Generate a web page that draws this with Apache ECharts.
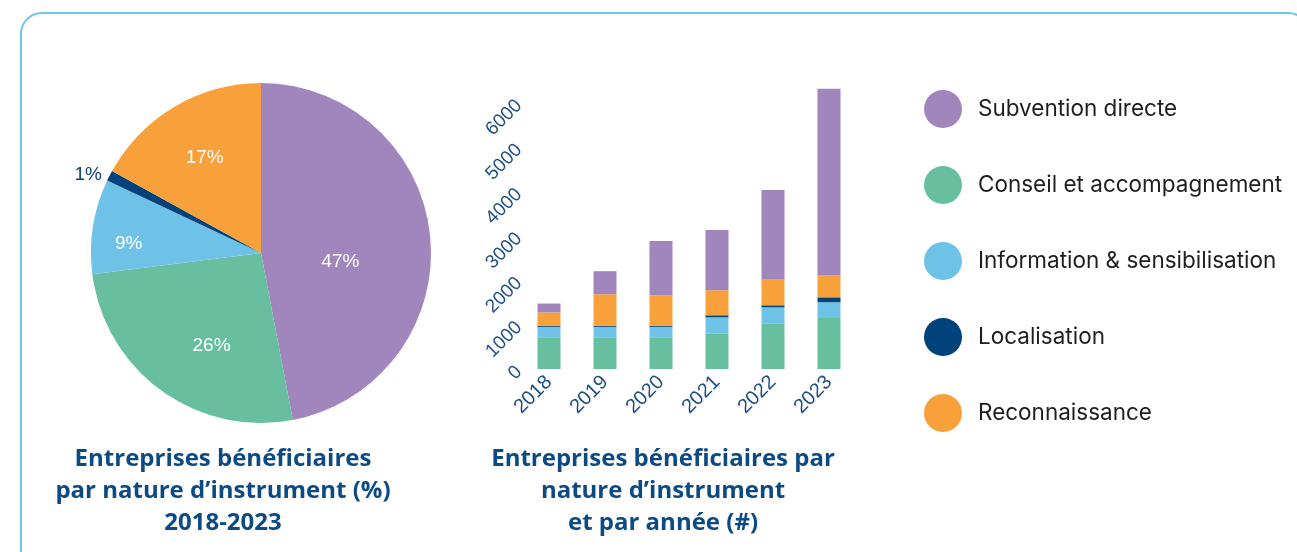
<!DOCTYPE html>
<html>
<head>
<meta charset="utf-8">
<script src="https://cdn.jsdelivr.net/npm/echarts@6/dist/echarts.min.js"></script>
<style>
    html, body { margin: 0; padding: 0; background: #fff; overflow: hidden; }
    #frame {
        position: absolute; left: 20px; top: 12px; width: 1290px; height: 600px;
        border: 2px solid #6fc5ea; border-radius: 22px; box-sizing: border-box;
    }
    #main { position: absolute; left: 0; top: 0; width: 1297px; height: 552px; }
</style>
</head>
<body>
<div id="frame"></div>
<div id="main"></div>
<script>
    // données
    const instruments = ["Subvention directe", "Conseil et accompagnement", "Information & sensibilisation", "Localisation", "Reconnaissance"];
    const pieShares = [47, 26, 9, 1, 17]; // % 2018-2023, même ordre que instruments
    const years = ["2018", "2019", "2020", "2021", "2022", "2023"];
    const subvention = [200, 520, 1220, 1355, 2010, 4200];
    const conseil = [715, 715, 715, 805, 1030, 1150];
    const information = [235, 235, 235, 360, 360, 355];
    const localisation = [25, 25, 25, 45, 45, 110];
    const reconnaissance = [300, 710, 690, 565, 590, 500];
    const yTicks = [0, 1000, 2000, 3000, 4000, 5000, 6000];

    const colors = {
        "Subvention directe": "#a086bd",
        "Conseil et accompagnement": "#68bfa0",
        "Information & sensibilisation": "#6ec2e8",
        "Localisation": "#00427b",
        "Reconnaissance": "#f8a03a"
    };
    const navy = "#0c4a85";

    // placement des étiquettes du camembert : fraction du rayon, décalage d'angle (deg)
    const PIE_CX = 261, PIE_CY = 253, PIE_R = 170;
    const labelRadius = [0.47, 0.62, 0.78, null, 0.65];
    const labelShift = [12, -8, -5, 0, 0];

    let myChart = echarts.init(document.getElementById("main"));

    let cum = [];
    let acc = 0;
    pieShares.forEach(v => { cum.push(acc + v / 2); acc += v; });
    const total = acc;

    const titleStyle = { color: navy, fontSize: 24, fontWeight: "bold", lineHeight: 32, fontFamily: "Open Sans" };

    myChart.setOption({
        animation: false,
        textStyle: { fontFamily: "Roboto" },
        title: [
            {
                text: "Entreprises bénéficiaires\npar nature d\u2019instrument (%)\n2018-2023",
                left: 218, top: 438, textAlign: "center",
                textStyle: titleStyle
            },
            {
                text: "Entreprises bénéficiaires par\nnature d\u2019instrument\net par année (#)",
                left: 658, top: 438, textAlign: "center",
                textStyle: titleStyle
            }
        ],
        legend: {
            data: instruments,
            orient: "vertical",
            left: 919,
            top: 85,
            icon: "circle",
            itemWidth: 38,
            itemHeight: 38,
            itemGap: 38,
            selectedMode: false,
            textStyle: { fontSize: 22.5, color: "#1e1e1e", fontFamily: "Inter", padding: [0, 0, 0, 11] }
        },
        grid: {
            left: 521,
            width: 336,
            top: 85,
            bottom: 183
        },
        xAxis: {
            type: "category",
            data: years,
            axisLine: { show: false },
            axisTick: { show: false },
            axisLabel: {
                rotate: 45,
                margin: 10,
                color: "#1d4f86",
                fontSize: 20,
                fontFamily: "Liberation Sans"
            }
        },
        yAxis: {
            type: "value",
            min: 0,
            max: 6400,
            interval: 1000,
            splitLine: { show: false },
            axisLine: { show: false },
            axisTick: { show: false },
            axisLabel: {
                rotate: 45,
                margin: 2,
                color: "#1d4f86",
                fontSize: 19,
                fontFamily: "Liberation Sans",
                formatter: v => (yTicks.indexOf(v) >= 0 ? String(v) : "")
            }
        },
        series: [
            {
                type: "pie",
                center: [PIE_CX, PIE_CY],
                radius: [0, PIE_R],
                startAngle: 90,
                clockwise: true,
                avoidLabelOverlap: false,
                silent: true,
                data: instruments.map((n, i) => ({
                    name: n,
                    value: pieShares[i],
                    itemStyle: { color: colors[n] },
                    label: i === 3
                        ? { position: "outside", color: "#0d3f75", fontSize: 19 }
                        : { position: "inside", color: "#fff", fontSize: 19 }
                })),
                label: { formatter: "{c}%", fontFamily: "Liberation Sans" },
                labelLine: { show: false, length: 3, length2: 0 },
                labelLayout: function (params) {
                    const k = labelRadius[params.dataIndex];
                    if (k == null) return {};
                    const a = (cum[params.dataIndex] / total * 360 + labelShift[params.dataIndex]) * Math.PI / 180;
                    return {
                        x: PIE_CX + k * PIE_R * Math.sin(a),
                        y: PIE_CY - k * PIE_R * Math.cos(a),
                        align: "center",
                        verticalAlign: "middle"
                    };
                }
            },
            { name: "Conseil et accompagnement", type: "bar", stack: "t", barWidth: 23, data: conseil, itemStyle: { color: colors["Conseil et accompagnement"] } },
            { name: "Information & sensibilisation", type: "bar", stack: "t", barWidth: 23, data: information, itemStyle: { color: colors["Information & sensibilisation"] } },
            { name: "Localisation", type: "bar", stack: "t", barWidth: 23, data: localisation, itemStyle: { color: colors["Localisation"] } },
            { name: "Reconnaissance", type: "bar", stack: "t", barWidth: 23, data: reconnaissance, itemStyle: { color: colors["Reconnaissance"] } },
            { name: "Subvention directe", type: "bar", stack: "t", barWidth: 23, data: subvention, itemStyle: { color: colors["Subvention directe"] } }
        ]
    });
</script>
</body>
</html>
